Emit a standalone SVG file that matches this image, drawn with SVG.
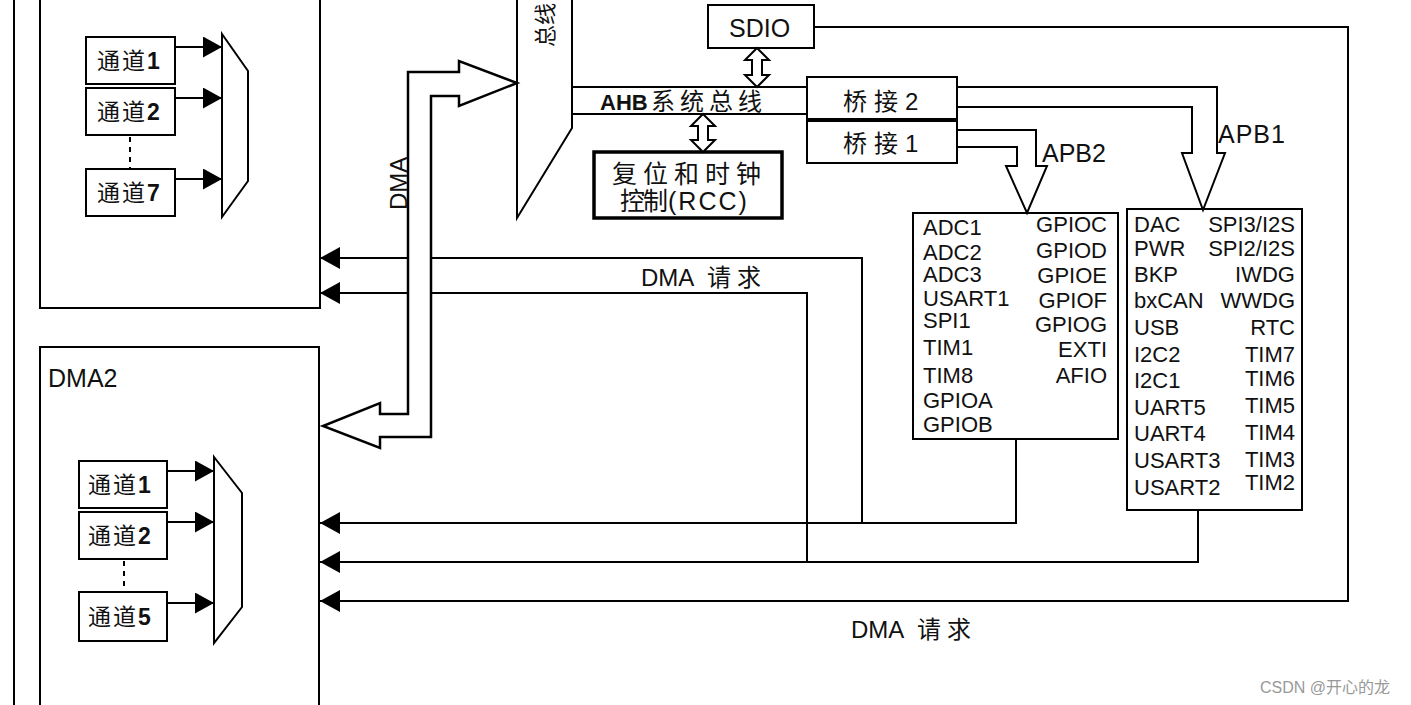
<svg xmlns="http://www.w3.org/2000/svg" width="1411" height="705" viewBox="0 0 1411 705">
<style>
.ln{stroke:#000;stroke-width:2;fill:none}
.box{fill:#fff;stroke:#000;stroke-width:2}
.t{font-family:"Liberation Sans","Noto Sans CJK SC",sans-serif;fill:#111}
.ch{font-size:23px;letter-spacing:2px}
.b{font-weight:bold}
.lst{font-size:22px}
.r{text-anchor:end}
</style>
<defs>
<marker id="ah" markerUnits="userSpaceOnUse" viewBox="0 0 20 22" refX="20" refY="11" markerWidth="20" markerHeight="22" orient="auto">
<path d="M0,0 L20,11 L0,22 z" fill="#000"/>
</marker>
<marker id="ah2" markerUnits="userSpaceOnUse" viewBox="0 0 19 21" refX="19" refY="10.5" markerWidth="19" markerHeight="21" orient="auto">
<path d="M0,0 L19,10.5 L0,21 z" fill="#000"/>
</marker>
</defs>
<rect width="1411" height="705" fill="#fff"/>

<line class="ln" x1="14" y1="0" x2="14" y2="705"/>

<g id="dma1">
<path class="ln" d="M40,0 V308 H320 V0"/>
<g id="dma1-ch1"><rect class="box" x="86" y="37" width="89" height="47"/><text class="t ch" x="97" y="69">通道<tspan class="b">1</tspan></text></g>
<g id="dma1-ch2"><rect class="box" x="86" y="88" width="89" height="47"/><text class="t ch" x="97" y="120">通道<tspan class="b">2</tspan></text></g>
<g id="dma1-ch7"><rect class="box" x="86" y="169" width="89" height="47"/><text class="t ch" x="97" y="201">通道<tspan class="b">7</tspan></text></g>
<line class="ln" x1="130" y1="137" x2="130" y2="169" stroke-dasharray="5,5"/>
<polygon class="box" points="222,34 248,71 248,181 222,217"/>
<line class="ln" x1="175" y1="47" x2="222" y2="47" marker-end="url(#ah2)"/>
<line class="ln" x1="175" y1="98" x2="222" y2="98" marker-end="url(#ah2)"/>
<line class="ln" x1="175" y1="179" x2="222" y2="179" marker-end="url(#ah2)"/>
</g>

<g id="dma2">
<path class="ln" d="M40,705 V347 H319 V705"/>
<text class="t" x="48" y="387" font-size="25">DMA2</text>
<g id="dma2-ch1"><rect class="box" x="79" y="461" width="88" height="47"/><text class="t ch" x="88" y="493">通道<tspan class="b">1</tspan></text></g>
<g id="dma2-ch2"><rect class="box" x="79" y="512" width="88" height="47"/><text class="t ch" x="88" y="544">通道<tspan class="b">2</tspan></text></g>
<g id="dma2-ch5"><rect class="box" x="79" y="592" width="88" height="49"/><text class="t ch" x="88" y="625">通道<tspan class="b">5</tspan></text></g>
<line class="ln" x1="124" y1="561" x2="124" y2="592" stroke-dasharray="5,5"/>
<polygon class="box" points="214,457 242,493 242,607 214,643"/>
<line class="ln" x1="167" y1="471" x2="214" y2="471" marker-end="url(#ah2)"/>
<line class="ln" x1="167" y1="522" x2="214" y2="522" marker-end="url(#ah2)"/>
<line class="ln" x1="167" y1="603" x2="214" y2="603" marker-end="url(#ah2)"/>
</g>

<g id="busmatrix">
<path class="box" d="M517,-2 V218 L572,128 V-2"/>
<text class="t" transform="translate(553,47) rotate(-90)" font-size="22">总线</text>
</g>

<g id="ahb">
<line class="ln" x1="572" y1="87" x2="807" y2="87"/>
<line class="ln" x1="572" y1="114" x2="807" y2="114"/>
<text class="t" x="600" y="110" font-size="22"><tspan class="b">AHB</tspan><tspan x="651" font-size="24" letter-spacing="5">系统总线</tspan></text>
</g>

<g id="sdio">
<rect class="box" x="708" y="5" width="106" height="43"/>
<text class="t" x="729" y="37" font-size="25">SDIO</text>
</g>

<g id="rcc">
<rect x="594" y="152" width="188" height="66" fill="#fff" stroke="#000" stroke-width="3.5"/>
<text class="t" x="612" y="183" font-size="25" letter-spacing="6">复位和时钟</text>
<text class="t" x="620" y="210" font-size="25"><tspan letter-spacing="-2">控制</tspan><tspan x="668" letter-spacing="2">(RCC)</tspan></text>
</g>

<g id="bridge2">
<rect class="box" x="807" y="77" width="150" height="42"/>
<text class="t" x="843" y="110" font-size="24" letter-spacing="7">桥接2</text>
</g>
<g id="bridge1">
<rect class="box" x="807" y="121" width="150" height="42"/>
<text class="t" x="843" y="152" font-size="24" letter-spacing="7">桥接1</text>
</g>

<g id="apb2">
<rect class="box" x="913" y="213" width="205" height="226"/>
<g class="t lst">
<text x="923" y="235">ADC1</text>
<text x="923" y="260">ADC2</text>
<text x="923" y="282">ADC3</text>
<text x="923" y="306">USART1</text>
<text x="923" y="328">SPI1</text>
<text x="923" y="355">TIM1</text>
<text x="923" y="383">TIM8</text>
<text x="923" y="408">GPIOA</text>
<text x="923" y="432">GPIOB</text>
<text class="r" x="1107" y="232">GPIOC</text>
<text class="r" x="1107" y="258">GPIOD</text>
<text class="r" x="1107" y="283">GPIOE</text>
<text class="r" x="1107" y="308">GPIOF</text>
<text class="r" x="1107" y="332">GPIOG</text>
<text class="r" x="1107" y="357">EXTI</text>
<text class="r" x="1107" y="383">AFIO</text>
</g>
</g>

<g id="apb1">
<rect class="box" x="1127" y="209" width="175" height="301"/>
<g class="t lst">
<text x="1134" y="232">DAC</text>
<text x="1134" y="256">PWR</text>
<text x="1134" y="282">BKP</text>
<text x="1134" y="308">bxCAN</text>
<text x="1134" y="335">USB</text>
<text x="1134" y="362">I2C2</text>
<text x="1134" y="388">I2C1</text>
<text x="1134" y="415">UART5</text>
<text x="1134" y="441">UART4</text>
<text x="1134" y="468">USART3</text>
<text x="1134" y="495">USART2</text>
<text class="r" x="1295" y="232">SPI3/I2S</text>
<text class="r" x="1295" y="256">SPI2/I2S</text>
<text class="r" x="1295" y="282">IWDG</text>
<text class="r" x="1295" y="308">WWDG</text>
<text class="r" x="1295" y="335">RTC</text>
<text class="r" x="1295" y="362">TIM7</text>
<text class="r" x="1295" y="386">TIM6</text>
<text class="r" x="1295" y="413">TIM5</text>
<text class="r" x="1295" y="440">TIM4</text>
<text class="r" x="1295" y="467">TIM3</text>
<text class="r" x="1295" y="490">TIM2</text>
</g>
</g>

<g id="connectors">
<path class="ln" d="M957,87 H1217 V153 H1225 L1203,210 L1182,153 H1192 V107 H957"/>
<path class="ln" d="M957,130 H1036 V166 H1047 L1027,213 L1006,166 H1017 V147 H957"/>
<text class="t" x="1218" y="143" font-size="25" letter-spacing="1">APB1</text>
<text class="t" x="1042" y="162" font-size="25">APB2</text>
<polygon points="757,48 769,60 762,60 762,75 769,75 757,87 745,75 752,75 752,60 745,60" fill="#fff" stroke="#000" stroke-width="2"/>
<polygon points="703,114 715,126 708,126 708,140 715,140 703,152 691,140 698,140 698,126 691,126" fill="#fff" stroke="#000" stroke-width="2"/>
<path class="ln" d="M814,27 H1348 V601 H320" marker-end="url(#ah)"/>
<path class="ln" d="M1016,439 V523 H320" marker-end="url(#ah)"/>
<path class="ln" d="M1198,510 V562 H320" marker-end="url(#ah)"/>
<path class="ln" d="M862,523 V258 H320" marker-end="url(#ah)"/>
<path class="ln" d="M807,562 V293 H320" marker-end="url(#ah)"/>
<polygon points="408,72 459,72 459,61 517,83 459,106 459,96 431,96 431,437 380,437 380,448 323,426 380,403 380,414 408,414" fill="#fff" stroke="#000" stroke-width="2.5" stroke-linejoin="miter"/>
<text class="t" transform="translate(407,210) rotate(-90)" font-size="24">DMA</text>
<text class="t" x="641" y="286" font-size="24">DMA<tspan x="707" letter-spacing="6">请求</tspan></text>
<text class="t" x="851" y="638" font-size="24">DMA<tspan x="917" letter-spacing="6">请求</tspan></text>
</g>

<text x="1260" y="693" font-family="'Liberation Sans','Noto Sans CJK SC',sans-serif" font-size="16" fill="#999">CSDN @开心的龙</text>
</svg>
